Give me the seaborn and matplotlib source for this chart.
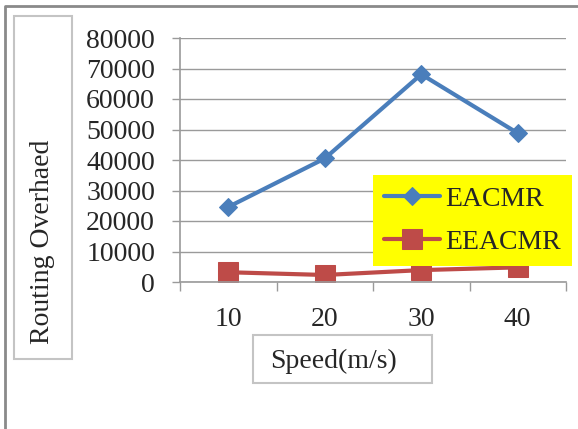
import matplotlib
matplotlib.use("Agg")
import matplotlib.pyplot as plt
import matplotlib.patches as patches
from matplotlib.lines import Line2D
import seaborn as sns
import pandas as pd

# data
speeds = [10, 20, 30, 40]
eacmr = [24600, 40500, 68100, 48800]
eeacmr = [3200, 2300, 3900, 4800]
y_ticks = [0, 10000, 20000, 30000, 40000, 50000, 60000, 70000, 80000]

BLUE = "#4a7ebb"
RED = "#be4b48"
GRID = "#9a9a9a"
W, H = 578, 429
FS = 20

sns.set_style("white")
plt.rcParams["font.family"] = ["Liberation Serif", "DejaVu Serif"]

df = pd.DataFrame({"speed": speeds, "EACMR": eacmr, "EEACMR": eeacmr})

fig = plt.figure(figsize=(W / 100, H / 100), dpi=100)
ax = fig.add_axes([180 / W, 1 - 282 / H, 386 / W, 244 / H])

sns.lineplot(data=df, x="speed", y="EACMR", ax=ax, color=BLUE, lw=3,
             marker="D", markersize=9.5, markeredgecolor=BLUE, label="EACMR")
sns.lineplot(data=df, x="speed", y="EEACMR", ax=ax, color=RED, lw=3,
             marker="s", markersize=14, markeredgecolor=RED, label="EEACMR")

ax.set_xlim(5, 45)
ax.set_ylim(0, 80000)
ax.set_yticks(y_ticks)
ax.set_yticklabels([str(v) for v in y_ticks])
ax.set_xticks(speeds)
ax.set_xticks([5, 15, 25, 35, 45], minor=True)
ax.set_xlabel("")
ax.set_ylabel("")

ax.yaxis.grid(True, color=GRID, lw=1)
ax.set_axisbelow(True)
for side in ["top", "right"]:
    ax.spines[side].set_visible(False)
for side in ["left", "bottom"]:
    ax.spines[side].set_color(GRID)
    ax.spines[side].set_linewidth(1.2)

ax.tick_params(axis="y", which="major", direction="out", length=6, width=1,
               color=GRID, pad=12, labelsize=FS, left=True)
ax.tick_params(axis="x", which="major", length=0, pad=18, labelsize=FS)
ax.tick_params(axis="x", which="minor", direction="out", length=6.5, width=1,
               color=GRID, bottom=True)

leg = ax.legend(loc="upper left", bbox_to_anchor=(373 / W, 1 - 175 / H),
                bbox_transform=fig.transFigure, fontsize=FS, frameon=True,
                fancybox=False, framealpha=1, facecolor="#ffff00",
                edgecolor="none", handlelength=2.0, handletextpad=0.2,
                labelspacing=0.65, borderpad=0.4, borderaxespad=0)
leg.get_frame().set_linewidth(0)

# axis title boxes
fig.patches.append(patches.Rectangle((14 / W, 1 - 359 / H), 58 / W, 343 / H,
                                     transform=fig.transFigure, fill=False,
                                     edgecolor="#c4c4c4", lw=1.5))
fig.text(43 / W, 1 - 242 / H, "Routing Overhaed", rotation=90,
         ha="center", va="center", fontsize=FS)

fig.patches.append(patches.Rectangle((253 / W, 1 - 383 / H), 179 / W, 48 / H,
                                     transform=fig.transFigure, fill=False,
                                     edgecolor="#c4c4c4", lw=1.5))
fig.text(334 / W, 1 - 361 / H, "Speed(m/s)", ha="center", va="center",
         fontsize=FS)

# outer chart frame (left and top edges visible in the crop)
fig.lines.append(Line2D([5 / W, 5 / W, 1], [0, 1 - 6 / H, 1 - 6 / H],
                        transform=fig.transFigure, color="#8a8a8a", lw=2))

fig.savefig("out.png", dpi=100)
